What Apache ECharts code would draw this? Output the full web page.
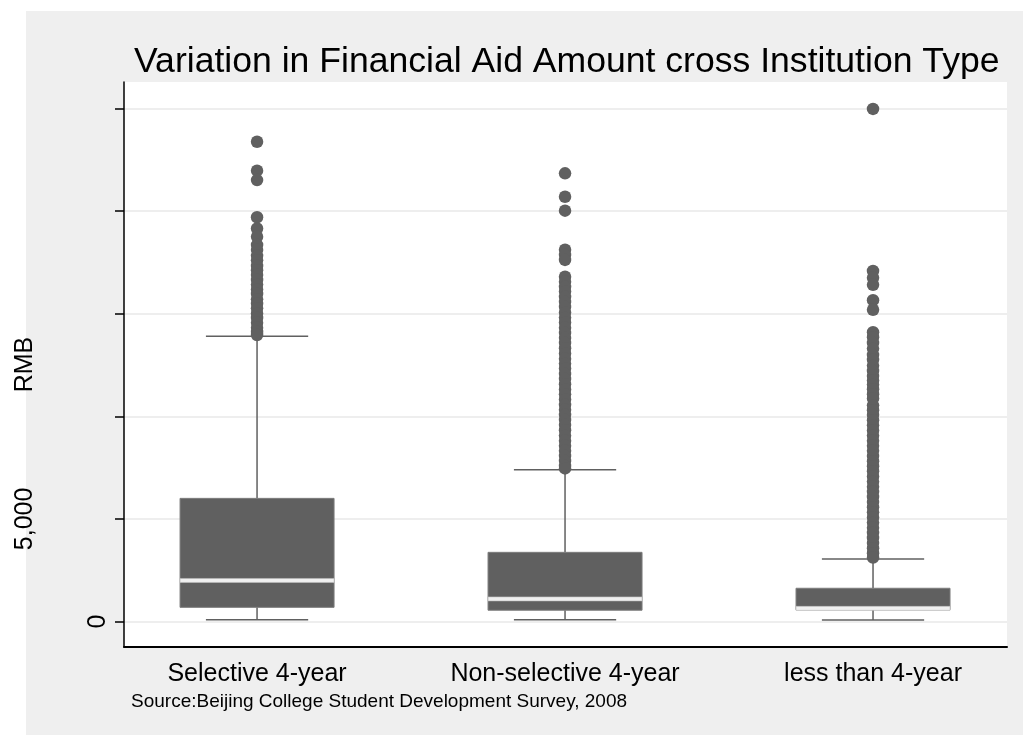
<!DOCTYPE html>
<html>
<head>
<meta charset="utf-8">
<title>Variation in Financial Aid Amount cross Institution Type</title>
<script src="https://cdn.jsdelivr.net/npm/echarts@6/dist/echarts.min.js"></script>
<style>
  html, body { margin: 0; padding: 0; background: #ffffff; }
  #chart { width: 1023px; height: 735px; }
</style>
</head>
<body>
<div id="chart"></div>
<script>
// Institution types along the horizontal axis
const categories = ['Selective 4-year', 'Non-selective 4-year', 'less than 4-year'];

// Box summaries (RMB)
const whiskerLow  = [90, 90, 75];
const quartile1   = [690, 550, 570];
const medianVal   = [2000, 1100, 640];
const quartile3   = [6000, 3370, 1620];
const whiskerHigh = [13900, 7400, 3050];

// Outside values (RMB)
const outliersSelective = [
  23380, 21970, 21510, 19700, 19150, 18750, 18350, 18100, 17820, 17600,
  17330, 17120, 16880, 16640, 16420, 16180, 15960, 15700, 15480, 15260,
  15010, 14790, 14560, 14320, 14110, 13960
];
const outliersNonSelective = [
  21840, 20700, 20020, 18120, 17860, 17620, 16800, 16560, 16310, 16080,
  15820, 15570, 15330, 15060, 14810, 14570, 14320, 14060, 13810, 13570,
  13320, 13060, 12810, 12570, 12330, 12060, 11820, 11560, 11310, 11070,
  10820, 10560, 10320, 10070, 9820, 9570, 9320, 9060, 8810, 8570,
  8320, 8070, 7820, 7580, 7460
];
const outliersLess = [
  24980, 17080, 16750, 16410, 15660, 15190, 14100, 13850, 13570, 13300,
  12990, 12750, 12470, 12210, 11960, 11750, 11545, 11320, 11080, 10870,
  10535, 10300, 10060, 9810, 9560, 9310, 9060, 8810, 8570, 8320,
  8060, 7810, 7570, 7320, 7070, 6820, 6570, 6320, 6070, 5820,
  5570, 5320, 5070, 4820, 4570, 4320, 4070, 3820, 3570, 3330, 3120
];

// Y tick values
const yTicks = [0, 5000, 10000, 15000, 20000, 25000];
const yTickLabels = [0, 5000];

const boxData = categories.map((c, i) => [
  i + 1, whiskerLow[i], quartile1[i], medianVal[i], quartile3[i], whiskerHigh[i]
]);
const outlierData = []
  .concat(outliersSelective.map(v => [1, v]))
  .concat(outliersNonSelective.map(v => [2, v]))
  .concat(outliersLess.map(v => [3, v]));

const FONT = 'Liberation Sans, Arial, Helvetica, sans-serif';
const DARK = '#606060';

const chart = echarts.init(document.getElementById('chart'), null, { renderer: 'canvas' });

function renderBox(params, api) {
  const x = api.value(0);
  const lo = api.value(1), q1 = api.value(2), md = api.value(3), q3 = api.value(4), hi = api.value(5);
  const half = 0.25, capHalf = 0.166;
  const pL = api.coord([x - half, q3]);
  const pR = api.coord([x + half, q1]);
  const pMidTop = api.coord([x, q3]);
  const pMidBot = api.coord([x, q1]);
  const pHi = api.coord([x, hi]);
  const pLo = api.coord([x, lo]);
  const cL = api.coord([x - capHalf, hi])[0];
  const cR = api.coord([x + capHalf, hi])[0];
  const pMed = api.coord([x, md]);
  const lineStyle = { stroke: DARK, lineWidth: 1.5 };
  return {
    type: 'group',
    children: [
      { type: 'line', shape: { x1: pHi[0], y1: pHi[1], x2: pMidTop[0], y2: pMidTop[1] }, style: lineStyle },
      { type: 'line', shape: { x1: pLo[0], y1: pLo[1], x2: pMidBot[0], y2: pMidBot[1] }, style: lineStyle },
      { type: 'line', shape: { x1: cL, y1: pHi[1], x2: cR, y2: pHi[1] }, style: lineStyle },
      { type: 'line', shape: { x1: cL, y1: pLo[1], x2: cR, y2: pLo[1] }, style: lineStyle },
      {
        type: 'rect',
        shape: { x: pL[0], y: pL[1], width: pR[0] - pL[0], height: pR[1] - pL[1] },
        style: { fill: DARK, stroke: '#7c7c7c', lineWidth: 1 }
      },
      {
        type: 'rect',
        shape: { x: pL[0], y: pMed[1] - 2, width: pR[0] - pL[0], height: 4 },
        style: { fill: '#f0f0f0', stroke: '#bdbdbd', lineWidth: 0.6 }
      }
    ]
  };
}

const option = {
  animation: false,
  backgroundColor: '#ffffff',
  graphic: [
    {
      type: 'rect', z: -10, silent: true,
      shape: { x: 26, y: 11, width: 997, height: 724 },
      style: { fill: '#efefef' }
    }
  ],
  title: [
    {
      text: 'Variation in Financial Aid Amount cross Institution Type',
      left: 129, top: 39,
      textStyle: { fontFamily: FONT, fontSize: 35.6, fontWeight: 'normal', color: '#000' }
    },
    {
      text: 'Source:Beijing College Student Development Survey, 2008',
      left: 131, top: 692, padding: 0,
      textStyle: { fontFamily: FONT, fontSize: 19, fontWeight: 'normal', color: '#000' }
    }
  ],
  grid: {
    left: 124, top: 82, right: 16, bottom: 88,
    outerBoundsMode: 'none',
    containLabel: false,
    show: true, backgroundColor: '#ffffff', borderWidth: 0
  },
  xAxis: {
    type: 'value',
    min: 0.568, max: 3.435,
    axisLine: { show: true, onZero: false, lineStyle: { color: '#000', width: 2 } },
    axisTick: { show: false },
    splitLine: { show: false },
    axisLabel: {
      customValues: [1, 2, 3],
      formatter: v => categories[Math.round(v) - 1] || '',
      margin: 15,
      fontFamily: FONT, fontSize: 25, color: '#000'
    }
  },
  yAxis: {
    type: 'value',
    min: -1243, max: 26291,
    name: 'RMB',
    nameLocation: 'middle',
    nameRotate: 90,
    nameGap: 86,
    nameMoveOverlap: false,
    nameTextStyle: { fontFamily: FONT, fontSize: 25, color: '#000' },
    axisLine: { show: true, onZero: false, lineStyle: { color: '#000', width: 1.5 } },
    axisTick: { show: true, customValues: yTicks, length: 9, lineStyle: { color: '#000', width: 1.5 } },
    splitLine: { show: true, lineStyle: { color: '#e8e8e8', width: 1.5 } },
    axisLabel: {
      customValues: yTickLabels,
      rotate: 90,
      margin: 13,
      fontFamily: FONT, fontSize: 25, color: '#000',
      formatter: v => (v === 0 ? '{near|0}' : '{far|' + v.toLocaleString('en-US') + '}'),
      rich: {
        near: { fontFamily: FONT, fontSize: 25, color: '#000' },
        far: { fontFamily: FONT, fontSize: 25, color: '#000', padding: [0, 0, 73, 0] }
      }
    }
  },
  series: [
    {
      type: 'custom',
      name: 'box',
      renderItem: renderBox,
      data: boxData,
      encode: { x: 0, y: [1, 2, 3, 4, 5] },
      z: 2,
      silent: true
    },
    {
      type: 'scatter',
      name: 'outside values',
      data: outlierData,
      symbol: 'circle',
      symbolSize: 12.5,
      itemStyle: { color: DARK, opacity: 1 },
      z: 3,
      silent: true
    }
  ]
};

chart.setOption(option);
</script>
</body>
</html>
